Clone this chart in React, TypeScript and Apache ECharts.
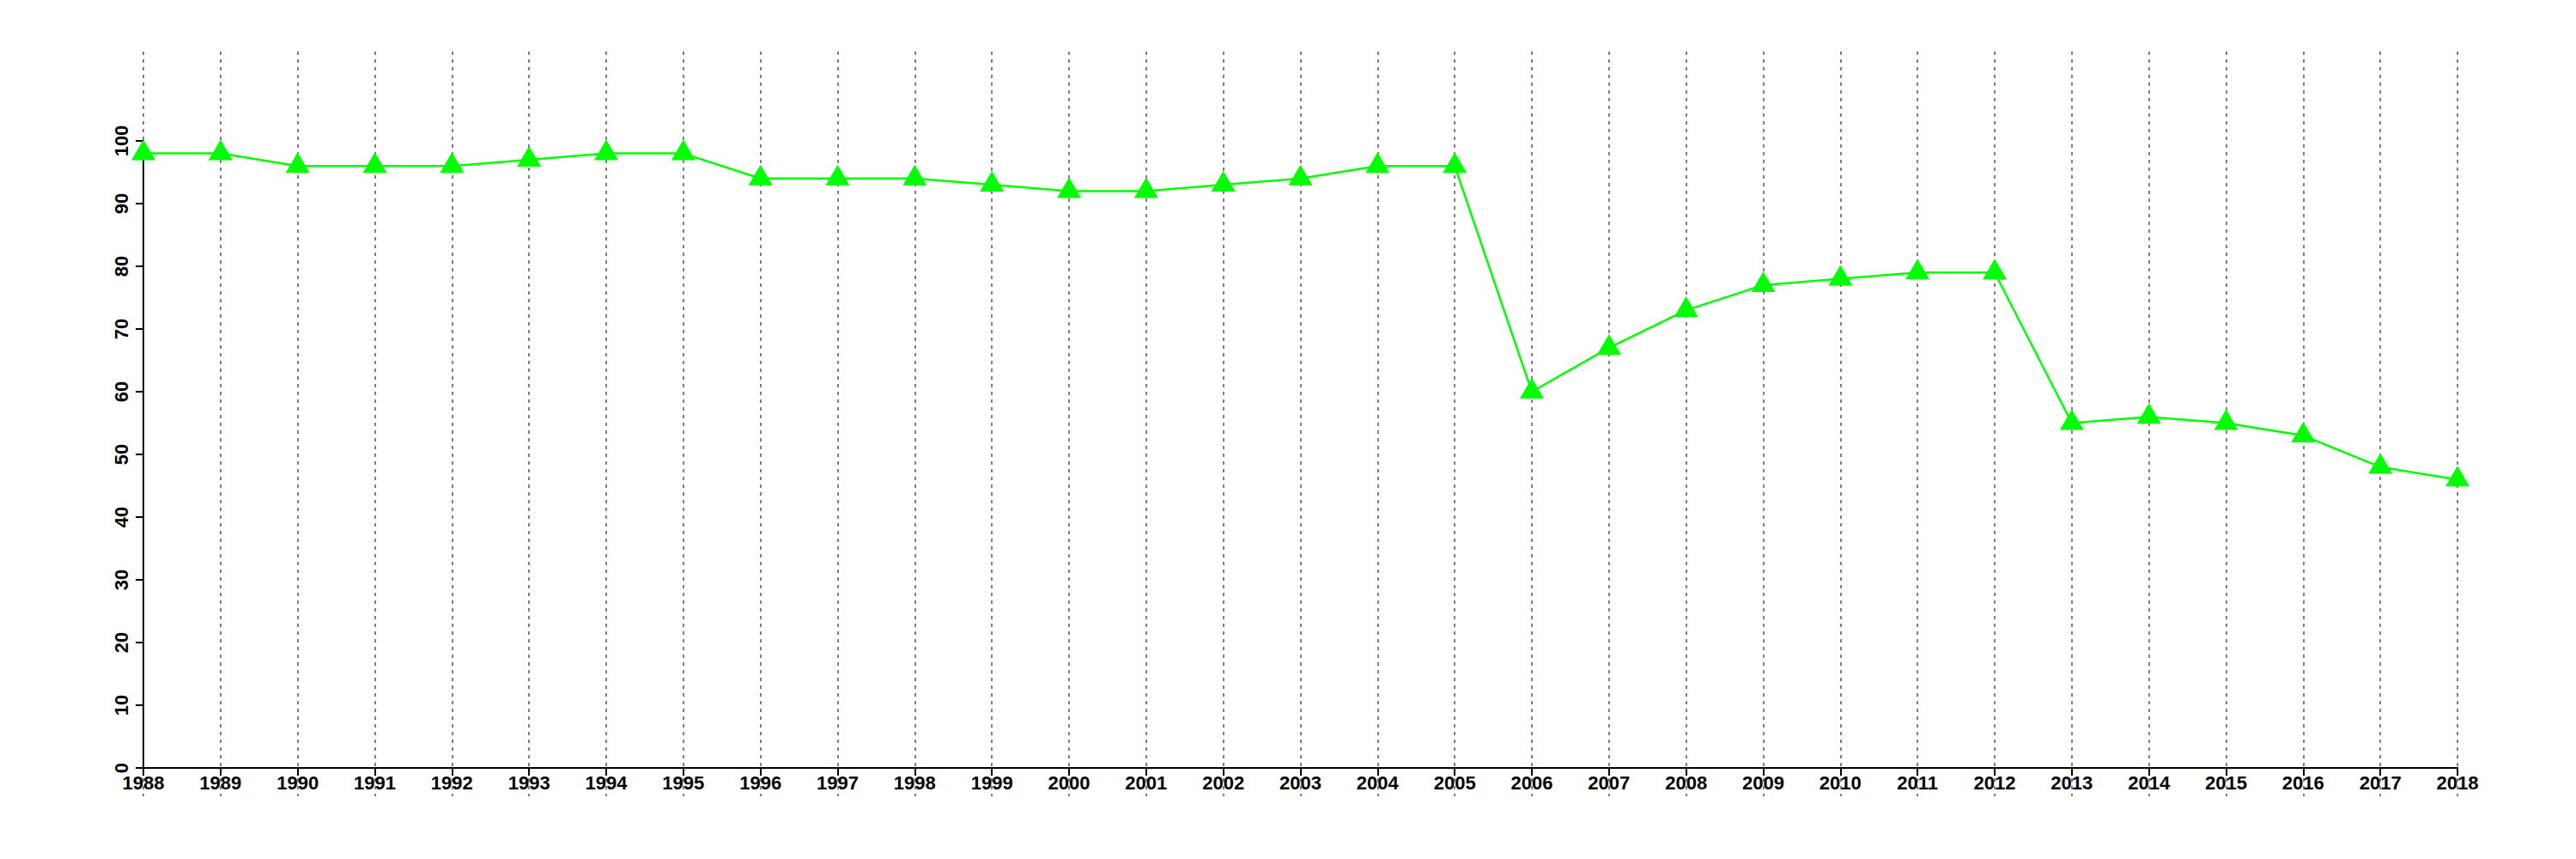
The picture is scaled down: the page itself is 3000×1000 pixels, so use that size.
import React, { useEffect, useRef } from "react";
import * as echarts from "echarts";

const years = [
  "1988", "1989", "1990", "1991", "1992", "1993", "1994", "1995", "1996", "1997",
  "1998", "1999", "2000", "2001", "2002", "2003", "2004", "2005", "2006", "2007",
  "2008", "2009", "2010", "2011", "2012", "2013", "2014", "2015", "2016", "2017", "2018",
];
const values = [
  98, 98, 96, 96, 96, 97, 98, 98, 94, 94,
  94, 93, 92, 92, 93, 94, 96, 96, 60, 67,
  73, 77, 78, 79, 79, 55, 56, 55, 53, 48, 46,
];
const yMin = 0;
const yMax = 100;
const yStep = 10;

export default function App() {
  const ref = useRef<HTMLDivElement>(null);
  useEffect(() => {
    if (!ref.current) return;
    const chart = echarts.init(ref.current, undefined, { renderer: "svg" });
    const font = "Liberation Sans, Arial, Helvetica, sans-serif";
    chart.setOption({
      animation: false,
      backgroundColor: "#ffffff",
      grid: [
        { left: 159, right: 146, top: 156, bottom: 114 },
        { left: 159, right: 146, top: 52, bottom: 81 },
      ],
      xAxis: [
        {
          type: "category",
          gridIndex: 0,
          data: years,
          boundaryGap: false,
          axisLine: { show: true, lineStyle: { color: "#000", width: 2 } },
          axisTick: { show: true, interval: 0, length: 9, lineStyle: { color: "#000", width: 2 } },
          axisLabel: {
            interval: 0,
            margin: 6,
            color: "#000",
            fontSize: 22,
            fontWeight: "bold",
            fontFamily: font,
          },
          splitLine: { show: false },
          z: 5,
        },
        {
          type: "category",
          gridIndex: 1,
          data: years,
          boundaryGap: false,
          axisLine: { show: false },
          axisTick: { show: false },
          axisLabel: { show: false },
          splitLine: {
            show: true,
            interval: 0,
            lineStyle: { color: "#7f7f7f", width: 2, type: [4, 5] },
          },
          z: 0,
        },
      ],
      yAxis: [
        {
          type: "value",
          gridIndex: 0,
          min: yMin,
          max: yMax,
          interval: yStep,
          axisLine: { show: true, lineStyle: { color: "#000", width: 2 } },
          axisTick: { show: true, length: 9, lineStyle: { color: "#000", width: 2 } },
          axisLabel: {
            rotate: 90,
            margin: 15,
            color: "#000",
            fontSize: 22,
            fontWeight: "bold",
            fontFamily: font,
          },
          splitLine: { show: false },
          z: 5,
        },
        {
          type: "value",
          gridIndex: 1,
          show: false,
          splitLine: { show: false },
        },
      ],
      series: [
        {
          type: "line",
          xAxisIndex: 0,
          yAxisIndex: 0,
          data: values,
          clip: false,
          symbol: "triangle",
          symbolSize: [28, 24],
          symbolOffset: [0, -4],
          showAllSymbol: true,
          itemStyle: { color: "#00ff00" },
          lineStyle: { color: "#00ff00", width: 2.5 },
          z: 10,
        },
      ],
    });
    return () => chart.dispose();
  }, []);
  return <div ref={ref} style={{ width: 3000, height: 1000 }} />;
}
